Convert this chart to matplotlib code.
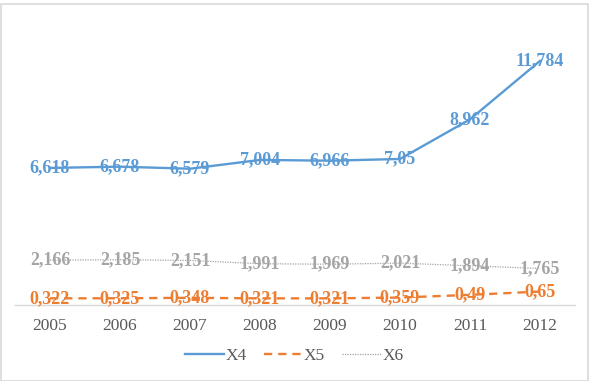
import matplotlib
matplotlib.use("Agg")
import matplotlib.pyplot as plt
from matplotlib.patches import Rectangle

years = ["2005", "2006", "2007", "2008", "2009", "2010", "2011", "2012"]
x4 = [6.618, 6.678, 6.579, 7.004, 6.966, 7.05, 8.962, 11.784]
x5 = [0.322, 0.325, 0.348, 0.321, 0.321, 0.359, 0.49, 0.65]
x6 = [2.166, 2.185, 2.151, 1.991, 1.969, 2.021, 1.894, 1.765]
x4_labels = ["6,618", "6,678", "6,579", "7,004", "6,966", "7,05", "8,962", "11,784"]
x5_labels = ["0,322", "0,325", "0,348", "0,321", "0,321", "0,359", "0,49", "0,65"]
x6_labels = ["2,166", "2,185", "2,151", "1,991", "1,969", "2,021", "1,894", "1,765"]

plt.rcParams['font.family'] = ['Liberation Serif', 'DejaVu Serif']

W, H = 589, 381
fig = plt.figure(figsize=(W / 100, H / 100), dpi=100)
fig.patches.append(Rectangle((0.5 / W, 0.5 / H), (W - 2) / W, (H - 4) / H,
                             transform=fig.transFigure, fill=False,
                             edgecolor="#D9D9D9", linewidth=1.2))

ax = fig.add_axes([15 / W, 76 / H, 560 / W, 290 / H])
pos = list(range(len(years)))

c4, c5, c6 = "#5B9BD5", "#ED7D31", "#A5A5A5"
ax.plot(pos, x4, color=c4, lw=1.7, label="X4", zorder=3)
ax.plot(pos, x5, color=c5, lw=1.7, dashes=(3.5, 2.5), label="X5", zorder=3)
ax.plot(pos, x6, color=c6, lw=0.9, dashes=(1, 1), label="X6", zorder=3)

fs = 13
for p, v, t in zip(pos, x4, x4_labels):
    ax.text(p, v, t, color=c4, fontsize=fs, fontweight="bold", ha="center", va="center", zorder=4)
for p, v, t in zip(pos, x5, x5_labels):
    ax.text(p, v, t, color=c5, fontsize=fs, fontweight="bold", ha="center", va="center", zorder=4)
for p, v, t in zip(pos, x6, x6_labels):
    ax.text(p, v, t, color=c6, fontsize=fs, fontweight="bold", ha="center", va="center", zorder=4)

ax.set_xlim(-0.5, len(years) - 0.5)
ax.set_ylim(0, 14)
ax.set_xticks(pos)
ax.set_xticklabels(years, fontsize=12.5, color="#595959")
ax.tick_params(axis="x", length=0, pad=9)
ax.set_yticks([])
for s in ["top", "left", "right"]:
    ax.spines[s].set_visible(False)
ax.spines["bottom"].set_color("#D9D9D9")
ax.spines["bottom"].set_linewidth(1.0)
ax.set_facecolor("none")

leg = fig.legend(loc="center", bbox_to_anchor=(0.5, (H - 356) / H), ncol=3,
                 frameon=False, fontsize=12.5, handlelength=2.2,
                 handletextpad=0.1, columnspacing=1.0)
for t in leg.get_texts():
    t.set_color("#595959")

fig.savefig("out.png", dpi=100)
